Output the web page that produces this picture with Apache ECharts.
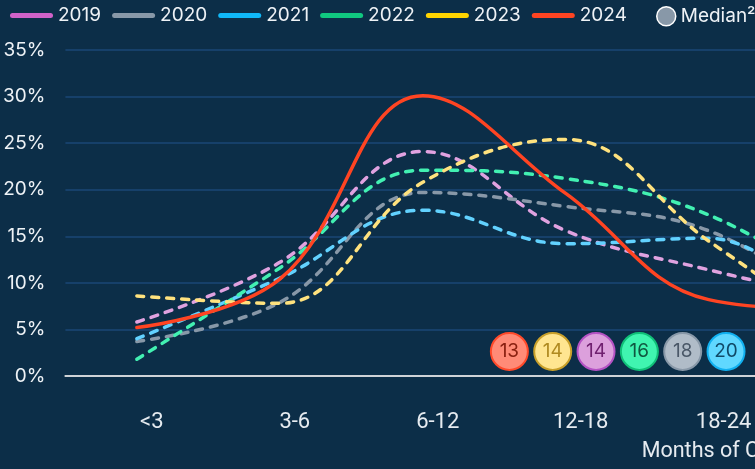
<!DOCTYPE html>
<html>
<head>
<meta charset="utf-8">
<script src="https://cdn.jsdelivr.net/npm/echarts@6/dist/echarts.min.js"></script>
<style>
  html, body { margin: 0; padding: 0; overflow: hidden; background: #0c2e48; }
  #chart { width: 1090px; height: 469px; }
</style>
</head>
<body>
<div id="chart"></div>
<script>
// months buckets (the chart runs on past the right edge of the view)
const categories = ["<3", "3-6", "6-12", "12-18", "18-24", "24-36", "36+"];
const yTicks = [0, 5, 10, 15, 20, 25, 30, 35];

// share of companies per bucket, %
const s2019 = [5.8, 12.2, 24.1, 15.6, 11.4, 8.0];
const s2020 = [3.7, 7.9, 19.7, 18.2, 15.6, 6.5];
const s2021 = [4.0, 10.5, 17.8, 14.2, 14.8, 5.0];
const s2022 = [1.8, 11.6, 22.1, 21.2, 17.3, 8.5];
const s2023 = [8.6, 7.8, 20.8, 25.4, 14.5, 4.0];
const s2024 = [5.2, 10.4, 30.1, 19.6, 8.2, 7.0];

// median bubbles, in the order they are drawn
const medianYears = ["2024", "2023", "2019", "2022", "2020", "2021"];
const medianValues = [13, 14, 14, 16, 18, 20];

const years = ["2019", "2020", "2021", "2022", "2023", "2024"];
const yearData = [s2019, s2020, s2021, s2022, s2023, s2024];
const legendColors = ["#d062c8", "#8898a8", "#10b8f8", "#10c880", "#ffd400", "#ff4422"];
const lineColors = ["#e0a2e0", "#8898a8", "#62d2ff", "#42f0b2", "#ffe27e", "#ff4422"];
const bubble = {
  "2024": { fill: "#ff8b77", border: "#ff4a2a", text: "#8a2010" },
  "2023": { fill: "#ffe590", border: "#c9a02a", text: "#b08a20" },
  "2019": { fill: "#dca0dc", border: "#b452c4", text: "#702070" },
  "2022": { fill: "#40f5b0", border: "#10c078", text: "#105840" },
  "2020": { fill: "#b0bcc8", border: "#8898a8", text: "#4a5868" },
  "2021": { fill: "#60d8ff", border: "#10b0f0", text: "#104a68" },
};

const pill = "path://M2.5,0H40.5A2.5,2.5,0,0,1,40.5,5H2.5A2.5,2.5,0,0,1,2.5,0Z";
const band = 143;

const lineSeries = years.map(function (y, i) {
  const solid = y === "2024";
  return {
    name: y,
    type: "line",
    data: yearData[i],
    smooth: 0.4,
    showSymbol: false,
    symbol: "none",
    color: lineColors[i],
    z: solid ? 5 : 2,
    lineStyle: {
      color: lineColors[i],
      width: 3.5,
      type: solid ? "solid" : [7, 8],
      cap: "round",
    },
    emphasis: { disabled: true },
  };
});

const medianSeries = {
  name: "Median²",
  type: "scatter",
  xAxisIndex: 1,
  yAxisIndex: 1,
  symbol: "circle",
  symbolSize: 37,
  z: 6,
  data: medianYears.map(function (y, i) {
    return {
      value: [y, 1, medianValues[i]],
      itemStyle: { color: bubble[y].fill, borderColor: bubble[y].border, borderWidth: 2, opacity: 1 },
      label: { color: bubble[y].text },
    };
  }),
  itemStyle: { opacity: 1 },
  label: {
    show: true,
    position: "inside",
    fontFamily: "Inter",
    fontSize: 19,
    formatter: function (p) { return p.value[2]; },
  },
  emphasis: { disabled: true },
};

const option = {
  backgroundColor: "#0c2e48",
  animation: false,
  legend: [
    {
      left: 5,
      top: 1,
      icon: pill,
      itemWidth: 43,
      itemHeight: 5,
      itemGap: 11,
      selectedMode: false,
      textStyle: { color: "#eef2f6", fontFamily: "Inter", fontSize: 19 },
      data: years.map(function (y, i) {
        return { name: y, itemStyle: { color: legendColors[i], borderWidth: 0 } };
      }),
    },
    {
      left: 651,
      top: 1,
      icon: "circle",
      itemWidth: 19,
      itemHeight: 19,
      selectedMode: false,
      textStyle: { color: "#eef2f6", fontFamily: "Inter", fontSize: 19 },
      data: [{ name: "Median²", itemStyle: { color: "#8898a8", borderColor: "#ffffff", borderWidth: 1.5 } }],
    },
  ],
  grid: [
    { left: 65, top: 50, width: band * categories.length, height: 326 },
    { left: 487.7, top: 332, width: 260, height: 39 },
  ],
  xAxis: [
    {
      type: "category",
      data: categories,
      boundaryGap: true,
      axisLine: { lineStyle: { color: "#cfd3d7", width: 2 } },
      axisTick: { show: false },
      axisLabel: {
        color: "#e6ebf0",
        fontFamily: "Roboto",
        fontSize: 22,
        margin: 35,
        padding: [0, 0, 0, 30],
      },
      name: "Months of Cash Runway",
      nameLocation: "middle",
      nameGap: 65,
      nameTextStyle: {
        color: "#e6ebf0",
        fontFamily: "Roboto",
        fontSize: 21.5,
        align: "left",
        padding: [0, 0, 0, 76],
      },
    },
    {
      type: "category",
      gridIndex: 1,
      data: medianYears,
      show: false,
    },
  ],
  yAxis: [
    {
      type: "value",
      min: yTicks[0],
      max: yTicks[yTicks.length - 1],
      interval: 5,
      axisLine: { show: false },
      axisTick: { show: false },
      axisLabel: {
        color: "#eef2f6",
        fontFamily: "Inter",
        fontSize: 19,
        margin: 20,
        formatter: "{value}%",
      },
      splitLine: { lineStyle: { color: "#16406a", width: 2 } },
    },
    {
      type: "value",
      gridIndex: 1,
      min: 0,
      max: 2,
      show: false,
    },
  ],
  series: lineSeries.concat([medianSeries]),
};

const chart = echarts.init(document.getElementById("chart"));
chart.setOption(option);
</script>
</body>
</html>
